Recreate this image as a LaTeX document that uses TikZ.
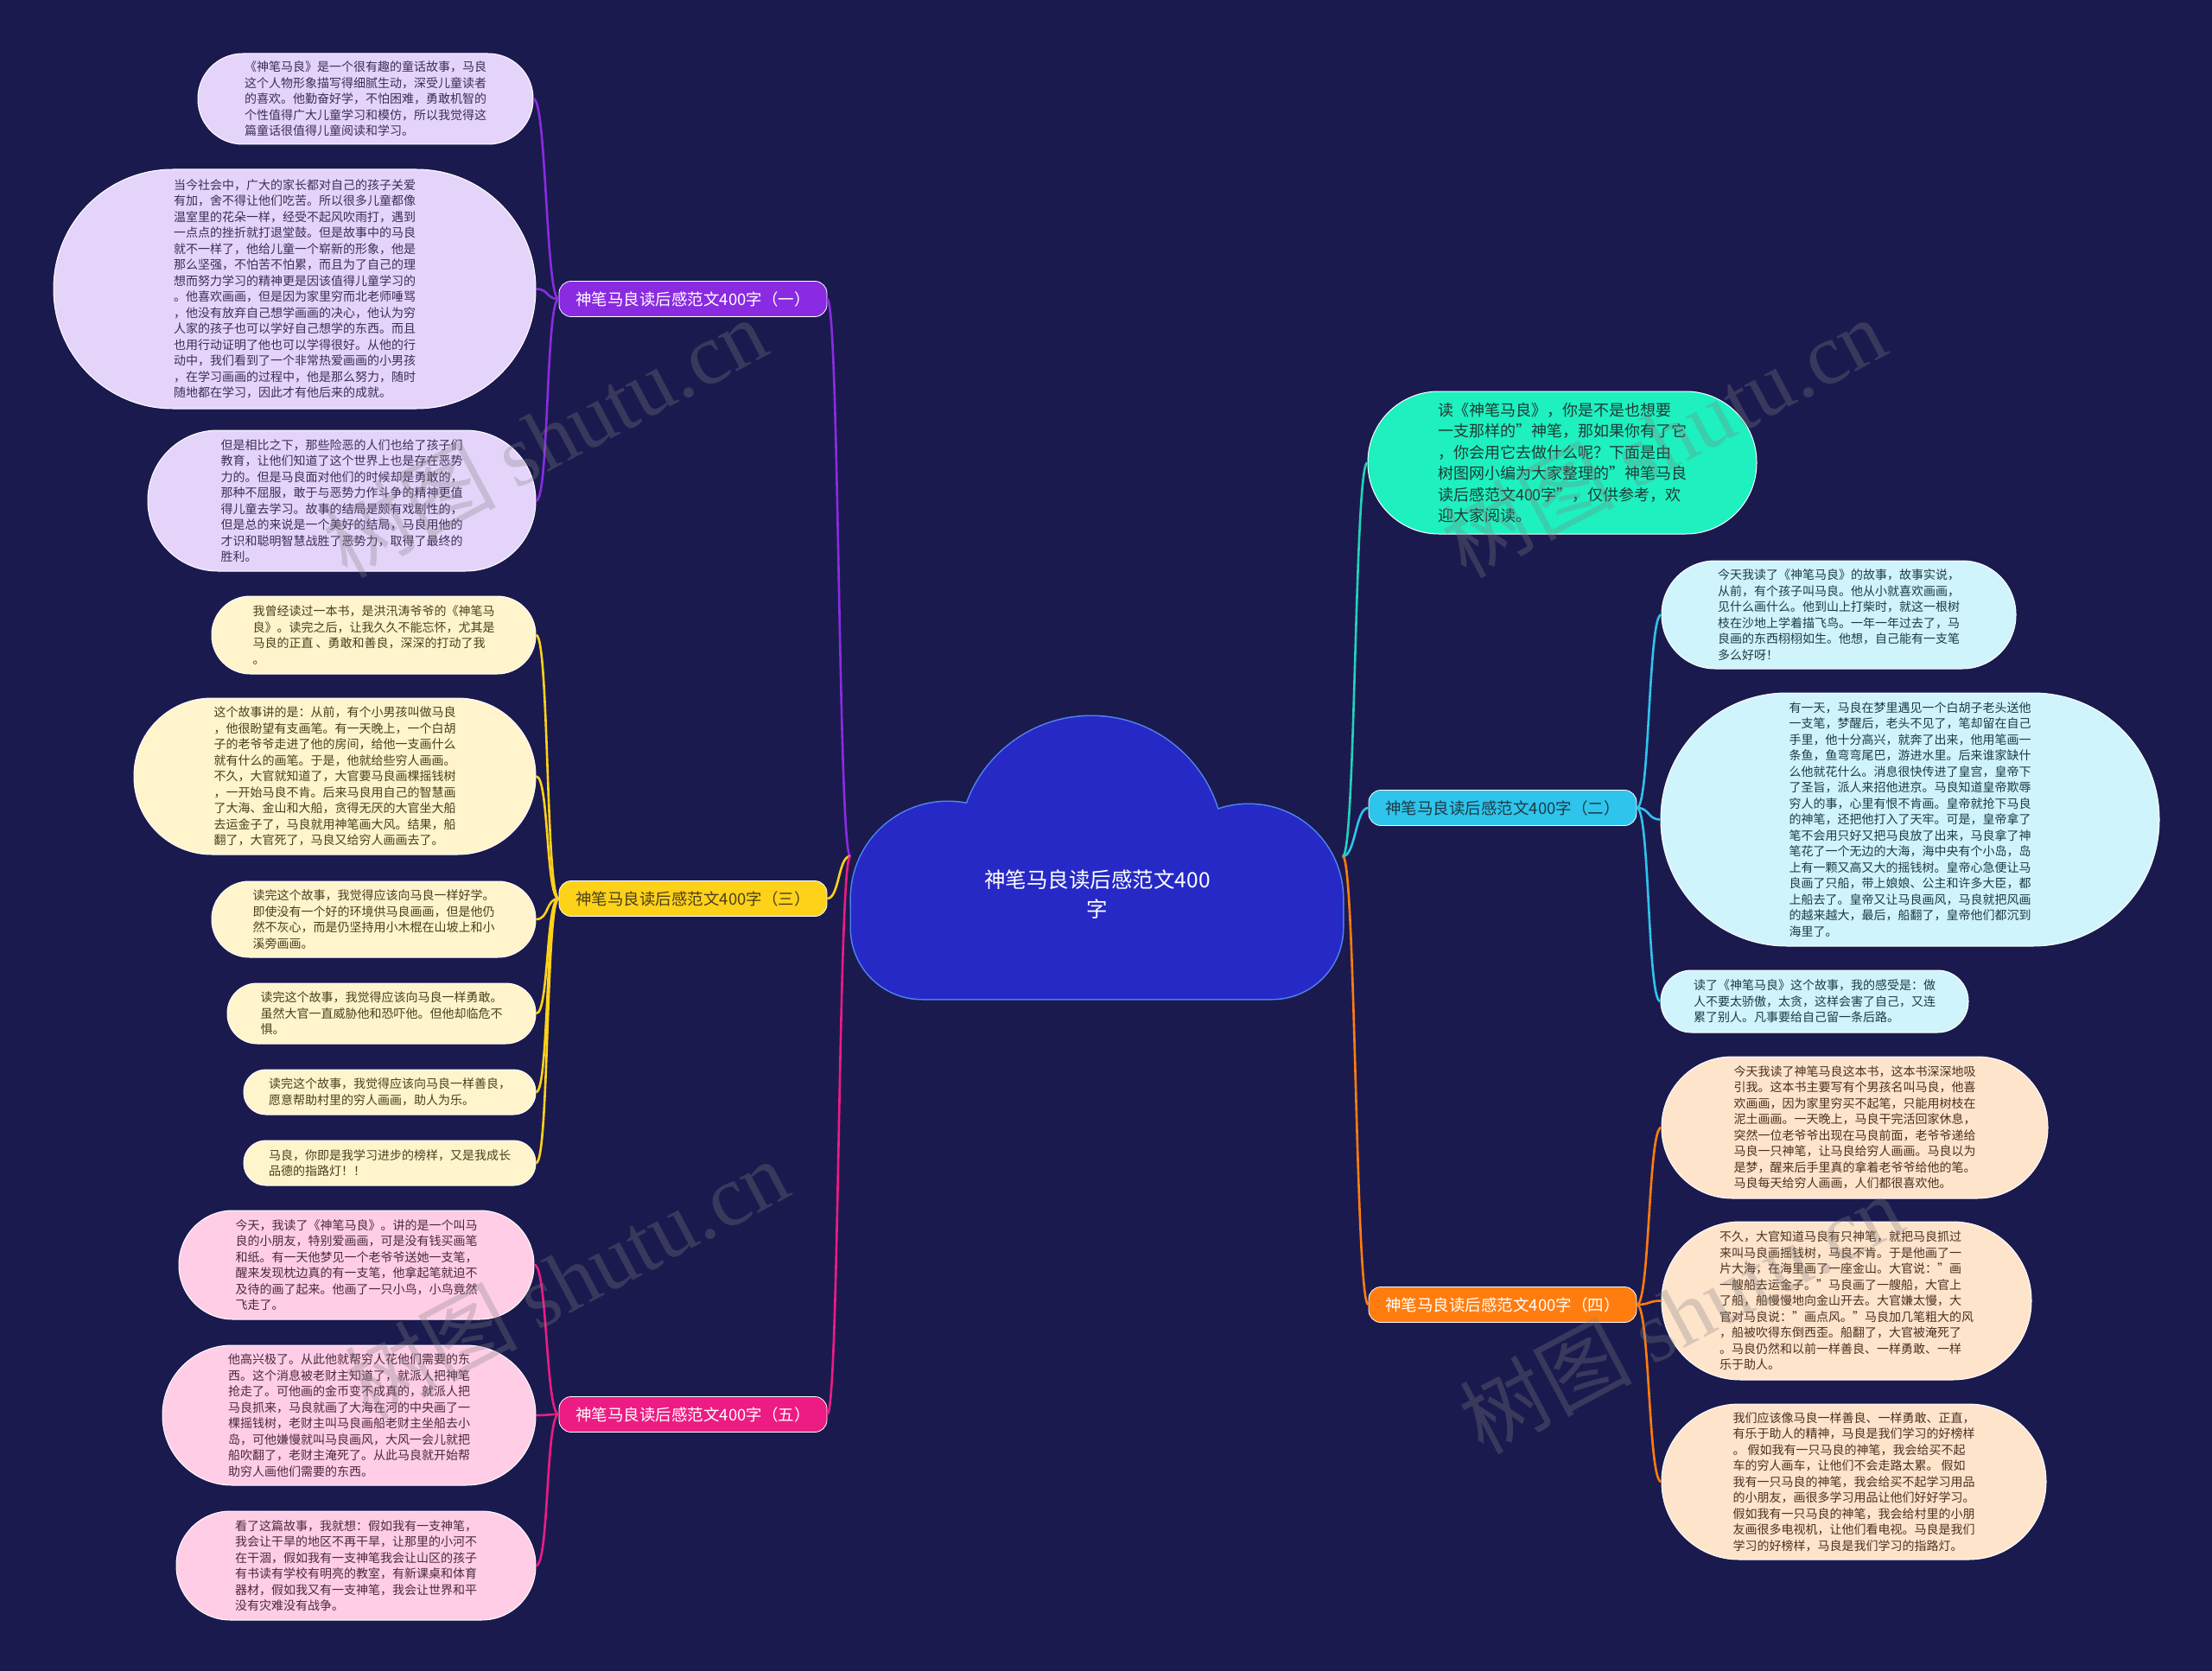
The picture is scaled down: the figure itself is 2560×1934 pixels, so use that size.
\documentclass[tikz,border=0pt]{standalone}
\usepackage{fontspec}
\setmainfont{Noto Sans CJK SC}
\newfontfamily\wmfont{Liberation Serif}
\usetikzlibrary{calc}
\definecolor{bgc}{HTML}{1B1A4E}
\definecolor{cloudc}{HTML}{2629C6}
\definecolor{cloudb}{HTML}{4F86F2}
\definecolor{cP}{HTML}{8A2BE2}
\definecolor{lP}{HTML}{E5D4FA}
\definecolor{tP}{HTML}{3A2E55}
\definecolor{cY}{HTML}{FFD21A}
\definecolor{lY}{HTML}{FFF4CC}
\definecolor{tY}{HTML}{4A3E1E}
\definecolor{cK}{HTML}{EC1C83}
\definecolor{lK}{HTML}{FFCDE6}
\definecolor{tK}{HTML}{4A2A3C}
\definecolor{cT}{HTML}{22D3B7}
\definecolor{lT}{HTML}{1EF0C0}
\definecolor{tT}{HTML}{1E3A34}
\definecolor{cC}{HTML}{2EC4EC}
\definecolor{lC}{HTML}{D0F4FC}
\definecolor{tC}{HTML}{1F3A45}
\definecolor{cO}{HTML}{FF7D0F}
\definecolor{lO}{HTML}{FFE4CC}
\definecolor{tO}{HTML}{4A3020}
\tikzset{
  leafbox/.style={draw=white, line width=1pt, inner sep=0pt, align=left,
    font=\fontsize{14}{18.5}\selectfont},
  brbox/.style={draw=white, line width=0.8pt, inner sep=0pt, minimum width=310pt,
    minimum height=41pt, rounded corners=14pt, font=\fontsize{18.5}{21}\selectfont},
  conn/.style={line width=2.6pt},
  wm/.style={rotate=28, text=gray, opacity=0.3, inner sep=0pt}
}
\begin{document}
\begin{tikzpicture}[x=1pt,y=-1pt]
\useasboundingbox (0,0) rectangle (2560,1934);
\fill[bgc] (0,0) rectangle (2560,1934);

\coordinate (cL) at (984,991);
\coordinate (cR) at (1554,991);

% cloud: outline first, then fill over the inner strokes
\begin{scope}[draw=cloudb, line width=3pt]
\draw[rounded corners=82pt] (985,963) rectangle (1554,1156);
\draw (1263,982) circle (153);
\draw (1097,1040) circle (112);
\draw (1445,1040) circle (109);
\end{scope}
\fill[cloudc, rounded corners=82pt] (985,963) rectangle (1554,1156);
\fill[cloudc] (1263,982) circle (153);
\fill[cloudc] (1097,1040) circle (112);
\fill[cloudc] (1445,1040) circle (109);
\node[text=white, align=center, font=\fontsize{24.5}{34}\selectfont] (center) at (1270,1035) {神笔马良读后感范文400\\字};

% ---------- branches ----------
\node[brbox, fill=cP, text=white] (b1) at (802,346) {神笔马良读后感范文400字（一）};
\node[brbox, fill=cY, text=tY] (b3) at (802,1040) {神笔马良读后感范文400字（三）};
\node[brbox, fill=cK, text=white] (b5) at (802,1637) {神笔马良读后感范文400字（五）};
\node[brbox, fill=cC, text=tC] (b2) at (1739,935) {神笔马良读后感范文400字（二）};
\node[brbox, fill=cO, text=white] (b4) at (1739,1510) {神笔马良读后感范文400字（四）};

% ---------- intro ----------
\node[leafbox, fill=lT, text=tT, minimum width=450pt, minimum height=165pt, rounded corners=82pt,
  font=\fontsize{18}{24.5}\selectfont] (intro) at (1808,535.5) {读《神笔马良》，你是不是也想要\\
一支那样的"神笔，那如果你有了它\\
，你会用它去做什么呢？下面是由\\
树图网小编为大家整理的"神笔马良\\
读后感范文400字"，仅供参考，欢\\
迎大家阅读。};

% ---------- purple leaves ----------
\node[leafbox, fill=lP, text=tP, minimum width=388pt, minimum height=105pt, rounded corners=52pt] (l1a) at (423,114.5) {《神笔马良》是一个很有趣的童话故事，马良\\
这个人物形象描写得细腻生动，深受儿童读者\\
的喜欢。他勤奋好学，不怕困难，勇敢机智的\\
个性值得广大儿童学习和模仿，所以我觉得这\\
篇童话很值得儿童阅读和学习。};
\node[leafbox, fill=lP, text=tP, minimum width=558pt, minimum height=277pt, rounded corners=138pt] (l1b) at (341,334.5) {当今社会中，广大的家长都对自己的孩子关爱\\
有加，舍不得让他们吃苦。所以很多儿童都像\\
温室里的花朵一样，经受不起风吹雨打，遇到\\
一点点的挫折就打退堂鼓。但是故事中的马良\\
就不一样了，他给儿童一个崭新的形象，他是\\
那么坚强，不怕苦不怕累，而且为了自己的理\\
想而努力学习的精神更是因该值得儿童学习的\\
。他喜欢画画，但是因为家里穷而北老师唾骂\\
，他没有放弃自己想学画画的决心，他认为穷\\
人家的孩子也可以学好自己想学的东西。而且\\
也用行动证明了他也可以学得很好。从他的行\\
动中，我们看到了一个非常热爱画画的小男孩\\
，在学习画画的过程中，他是那么努力，随时\\
随地都在学习，因此才有他后来的成就。};
\node[leafbox, fill=lP, text=tP, minimum width=449pt, minimum height=163pt, rounded corners=81pt] (l1c) at (395.5,579.5) {但是相比之下，那些险恶的人们也给了孩子们\\
教育，让他们知道了这个世界上也是存在恶势\\
力的。但是马良面对他们的时候却是勇敢的，\\
那种不屈服，敢于与恶势力作斗争的精神更值\\
得儿童去学习。故事的结局是颇有戏剧性的，\\
但是总的来说是一个美好的结局，马良用他的\\
才识和聪明智慧战胜了恶势力，取得了最终的\\
胜利。};

% ---------- yellow leaves ----------
\node[leafbox, fill=lY, text=tY, minimum width=375pt, minimum height=90pt, rounded corners=44.5pt] (l3a) at (432.5,735) {我曾经读过一本书，是洪汛涛爷爷的《神笔马\\
良》。读完之后，让我久久不能忘怀，尤其是\\
马良的正直 、勇敢和善良，深深的打动了我\\
。};
\node[leafbox, fill=lY, text=tY, minimum width=465pt, minimum height=181pt, rounded corners=90pt] (l3b) at (387.5,898.5) {这个故事讲的是：从前，有个小男孩叫做马良\\
，他很盼望有支画笔。有一天晚上，一个白胡\\
子的老爷爷走进了他的房间，给他一支画什么\\
就有什么的画笔。于是，他就给些穷人画画。\\
不久，大官就知道了，大官要马良画棵摇钱树\\
，一开始马良不肯。后来马良用自己的智慧画\\
了大海、金山和大船，贪得无厌的大官坐大船\\
去运金子了，马良就用神笔画大风。结果，船\\
翻了，大官死了，马良又给穷人画画去了。};
\node[leafbox, fill=lY, text=tY, minimum width=375pt, minimum height=88pt, rounded corners=43.5pt] (l3c) at (432.5,1064) {读完这个故事，我觉得应该向马良一样好学。\\
即使没有一个好的环境供马良画画，但是他仍\\
然不灰心，而是仍坚持用小木棍在山坡上和小\\
溪旁画画。};
\node[leafbox, fill=lY, text=tY, minimum width=357pt, minimum height=70pt, rounded corners=34.5pt] (l3d) at (441.5,1173) {读完这个故事，我觉得应该向马良一样勇敢。\\
虽然大官一直威胁他和恐吓他。但他却临危不\\
惧。};
\node[leafbox, fill=lY, text=tY, minimum width=338pt, minimum height=52pt, rounded corners=25.5pt] (l3e) at (451,1264) {读完这个故事，我觉得应该向马良一样善良，\\
愿意帮助村里的穷人画画，助人为乐。};
\node[leafbox, fill=lY, text=tY, minimum width=338pt, minimum height=52pt, rounded corners=25.5pt] (l3f) at (451,1346) {马良，你即是我学习进步的榜样，又是我成长\\
品德的指路灯！！};

% ---------- pink leaves ----------
\node[leafbox, fill=lK, text=tK, minimum width=411pt, minimum height=126pt, rounded corners=62.5pt] (l5a) at (412.5,1464) {今天，我读了《神笔马良》。讲的是一个叫马\\
良的小朋友，特别爱画画，可是没有钱买画笔\\
和纸。有一天他梦见一个老爷爷送她一支笔，\\
醒来发现枕边真的有一支笔，他拿起笔就迫不\\
及待的画了起来。他画了一只小鸟，小鸟竟然\\
飞走了。};
\node[leafbox, fill=lK, text=tK, minimum width=432pt, minimum height=162pt, rounded corners=80.5pt] (l5b) at (404,1638) {他高兴极了。从此他就帮穷人花他们需要的东\\
西。这个消息被老财主知道了，就派人把神笔\\
抢走了。可他画的金币变不成真的，就派人把\\
马良抓来，马良就画了大海在河的中央画了一\\
棵摇钱树，老财主叫马良画船老财主坐船去小\\
岛，可他嫌慢就叫马良画风，大风一会儿就把\\
船吹翻了，老财主淹死了。从此马良就开始帮\\
助穷人画他们需要的东西。};
\node[leafbox, fill=lK, text=tK, minimum width=416pt, minimum height=126pt, rounded corners=62.5pt] (l5c) at (412,1812) {看了这篇故事，我就想：假如我有一支神笔，\\
我会让干旱的地区不再干旱，让那里的小河不\\
在干涸，假如我有一支神笔我会让山区的孩子\\
有书读有学校有明亮的教室，有新课桌和体育\\
器材，假如我又有一支神笔，我会让世界和平\\
没有灾难没有战争。};

% ---------- cyan leaves ----------
\node[leafbox, fill=lC, text=tC, minimum width=410pt, minimum height=125pt, rounded corners=62pt] (r2a) at (2128,711.5) {今天我读了《神笔马良》的故事，故事实说，\\
从前，有个孩子叫马良。他从小就喜欢画画，\\
见什么画什么。他到山上打柴时，就这一根树\\
枝在沙地上学着描飞鸟。一年一年过去了，马\\
良画的东西栩栩如生。他想，自己能有一支笔\\
多么好呀！};
\node[leafbox, fill=lC, text=tC, minimum width=577pt, minimum height=293pt, rounded corners=146pt] (r2b) at (2210.5,948.5) {有一天，马良在梦里遇见一个白胡子老头送他\\
一支笔，梦醒后，老头不见了，笔却留在自己\\
手里，他十分高兴，就奔了出来，他用笔画一\\
条鱼，鱼弯弯尾巴，游进水里。后来谁家缺什\\
么他就花什么。消息很快传进了皇宫，皇帝下\\
了圣旨，派人来招他进京。马良知道皇帝欺辱\\
穷人的事，心里有恨不肯画。皇帝就抢下马良\\
的神笔，还把他打入了天牢。可是，皇帝拿了\\
笔不会用只好又把马良放了出来，马良拿了神\\
笔花了一个无边的大海，海中央有个小岛，岛\\
上有一颗又高又大的摇钱树。皇帝心急便让马\\
良画了只船，带上娘娘、公主和许多大臣，都\\
上船去了。皇帝又让马良画风，马良就把风画\\
的越来越大，最后，船翻了，皇帝他们都沉到\\
海里了。};
\node[leafbox, fill=lC, text=tC, minimum width=356pt, minimum height=72pt, rounded corners=35.5pt] (r2c) at (2100,1159) {读了《神笔马良》这个故事，我的感受是：做\\
人不要太骄傲，太贪，这样会害了自己，又连\\
累了别人。凡事要给自己留一条后路。};

% ---------- orange leaves ----------
\node[leafbox, fill=lO, text=tO, minimum width=447pt, minimum height=164pt, rounded corners=81.5pt] (r4a) at (2146.5,1305) {今天我读了神笔马良这本书，这本书深深地吸\\
引我。这本书主要写有个男孩名叫马良，他喜\\
欢画画，因为家里穷买不起笔，只能用树枝在\\
泥土画画。一天晚上，马良干完活回家休息，\\
突然一位老爷爷出现在马良前面，老爷爷递给\\
马良一只神笔，让马良给穷人画画。马良以为\\
是梦，醒来后手里真的拿着老爷爷给他的笔。\\
马良每天给穷人画画，人们都很喜欢他。};
\node[leafbox, fill=lO, text=tO, minimum width=428pt, minimum height=183pt, rounded corners=91pt] (r4b) at (2137,1505.5) {不久，大官知道马良有只神笔，就把马良抓过\\
来叫马良画摇钱树，马良不肯。于是他画了一\\
片大海，在海里画了一座金山。大官说："画\\
一艘船去运金子。"马良画了一艘船，大官上\\
了船，船慢慢地向金山开去。大官嫌太慢，大\\
官对马良说："画点风。"马良加几笔粗大的风\\
，船被吹得东倒西歪。船翻了，大官被淹死了\\
。马良仍然和以前一样善良、一样勇敢、一样\\
乐于助人。};
\node[leafbox, fill=lO, text=tO, minimum width=445pt, minimum height=180pt, rounded corners=89.5pt] (r4c) at (2145.5,1715) {我们应该像马良一样善良、一样勇敢、正直，\\
有乐于助人的精神，马良是我们学习的好榜样\\
。 假如我有一只马良的神笔，我会给买不起\\
车的穷人画车，让他们不会走路太累。 假如\\
我有一只马良的神笔，我会给买不起学习用品\\
的小朋友，画很多学习用品让他们好好学习。\\
假如我有一只马良的神笔，我会给村里的小朋\\
友画很多电视机，让他们看电视。马良是我们\\
学习的好榜样，马良是我们学习的指路灯。};

% ---------- connectors ----------
\draw[conn, cP] (cL) .. controls +(-14,0) and +(14,0) .. (b1.east);
\draw[conn, cY] (cL) .. controls +(-14,0) and +(14,0) .. (b3.east);
\draw[conn, cK] (cL) .. controls +(-14,0) and +(14,0) .. (b5.east);
\draw[conn, cT] (cR) .. controls +(15,0) and +(-15,0) .. (intro.west);
\draw[conn, cC] (cR) .. controls +(15,0) and +(-15,0) .. (b2.west);
\draw[conn, cO] (cR) .. controls +(15,0) and +(-15,0) .. (b4.west);

\foreach \l in {l1a,l1b,l1c}
  \draw[conn, cP] (b1.west) .. controls +(-15,0) and +(15,0) .. (\l.east);
\foreach \l in {l3a,l3b,l3c,l3d,l3e,l3f}
  \draw[conn, cY] (b3.west) .. controls +(-15,0) and +(15,0) .. (\l.east);
\foreach \l in {l5a,l5b,l5c}
  \draw[conn, cK] (b5.west) .. controls +(-15,0) and +(15,0) .. (\l.east);
\foreach \l in {r2a,r2b,r2c}
  \draw[conn, cC] (b2.east) .. controls +(15,0) and +(-15,0) .. (\l.west);
\foreach \l in {r4a,r4b,r4c}
  \draw[conn, cO] (b4.east) .. controls +(15,0) and +(-15,0) .. (\l.west);

% ---------- watermarks ----------
\node[wm] (wm1) at (630,506) {\fontsize{100}{100}\selectfont 树图 \wmfont shutu.cn};
\node[wm] (wm2) at (1925,506) {\fontsize{100}{100}\selectfont 树图 \wmfont shutu.cn};
\node[wm] (wm3) at (655,1480) {\fontsize{100}{100}\selectfont 树图 \wmfont shutu.cn};
\node[wm] (wm4) at (1945,1520) {\fontsize{100}{100}\selectfont 树图 \wmfont shutu.cn};
\end{tikzpicture}
\end{document}
